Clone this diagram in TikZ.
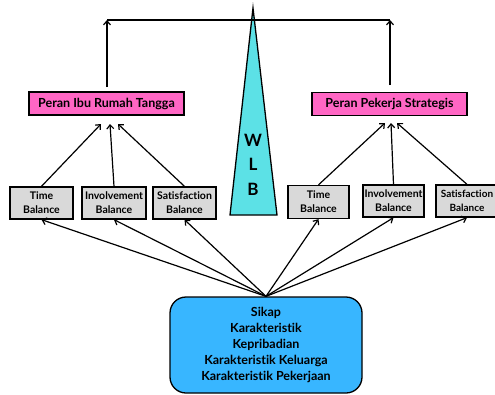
\documentclass[tikz,border=0pt]{standalone}
\usepackage{fontspec}
\setmainfont{Lato}[Ligatures=NoCommon]
\usetikzlibrary{arrows.meta}
\definecolor{pinkc}{HTML}{FF66C4}
\definecolor{grayc}{HTML}{D9D9D9}
\definecolor{cyanc}{HTML}{5CE1E6}
\definecolor{bluec}{HTML}{38B6FF}
\tikzset{
  pinkbox/.style={draw=black, line width=1.3pt, fill=pinkc, minimum width=155pt, minimum height=23pt, inner sep=0pt, font=\bfseries\fontsize{12.5}{14}\selectfont},
  graybox/.style={draw=black, line width=1.3pt, fill=grayc, minimum width=63pt, minimum height=32pt, inner sep=0pt, align=center, font=\bfseries\fontsize{10.5}{14}\selectfont},
  bluebox/.style={draw=black, line width=1.3pt, fill=bluec, rounded corners=16pt, minimum width=192pt, minimum height=96pt, inner sep=0pt, align=center, font=\bfseries\fontsize{12.5}{16}\selectfont},
  wlb/.style={font=\bfseries\fontsize{17}{18}\selectfont},
  arr/.style={line width=1.2pt, -{Straight Barb[length=4pt,width=7pt,line width=1.2pt]}},
  ln/.style={line width=1.2pt}
}
\begin{document}
\begin{tikzpicture}[x=1pt,y=-1pt]
\useasboundingbox (0,0) rectangle (495,394);
\clip (0,0) rectangle (495,394);
% triangle
\draw[line width=1.3pt, fill=cyanc, line join=miter] (253,8) -- (277,215) -- (230,215) -- cycle;
\node[wlb] (w) at (253,140) {W};
\node[wlb] (l) at (253,164) {L};
\node[wlb] (b) at (253,189) {B};
% top bar
\coordinate (barL) at (107,20);
\coordinate (barR) at (390,20);
\draw[ln] (barL) -- (barR);
% pink boxes
\node[pinkbox] (ibu) at (106.5,103.5) {Peran Ibu Rumah Tangga};
\node[pinkbox] (pek) at (389.5,104) {Peran Pekerja Strategis};
\coordinate (ibuTop) at (107,87);
\coordinate (pekTop) at (390,85);
\draw[arr] (ibuTop) -- (barL);
\draw[arr] (pekTop) -- (barR);
% gray boxes left
\node[graybox] (t1) at (41.5,203) {Time\\Balance};
\node[graybox, minimum width=64pt] (i1) at (114,203) {Involvement\\Balance};
\node[graybox] (s1) at (184.5,203) {Satisfaction\\Balance};
% gray boxes right
\node[graybox, minimum width=61pt, minimum height=33pt] (t2) at (318.5,202) {Time\\Balance};
\node[graybox, minimum width=61pt] (i2) at (393.5,201) {Involvement\\Balance};
\node[graybox, minimum width=62pt, font=\bfseries\fontsize{10}{14}\selectfont] (s2) at (467,201) {Satisfaction\\Balance};
% targets under pink boxes
\coordinate (ta1) at (101,124);
\coordinate (ta2) at (110,124);
\coordinate (ta3) at (118,124);
\coordinate (tb1) at (385,123);
\coordinate (tb2) at (391,123);
\coordinate (tb3) at (397,123);
\draw[arr] (t1.north) -- (ta1);
\draw[arr] (i1.north) -- (ta2);
\draw[arr] (s1.north) -- (ta3);
\draw[arr] (t2.north) -- (tb1);
\draw[arr] (i2.north) -- (tb2);
\draw[arr] (s2.north) -- (tb3);
% bottom box
\node[bluebox] (blue) at (266,345) {Sikap\\Karakteristik\\Kepribadian\\Karakteristik Keluarga\\Karakteristik Pekerjaan};
\draw[arr] (blue.north) -- (t1.south);
\draw[arr] (blue.north) -- (i1.south);
\draw[arr] (blue.north) -- (s1.south);
\draw[arr] (blue.north) -- (t2.south);
\draw[arr] (blue.north) -- (i2.south);
\draw[arr] (blue.north) -- (s2.south);
\end{tikzpicture}
\end{document}
